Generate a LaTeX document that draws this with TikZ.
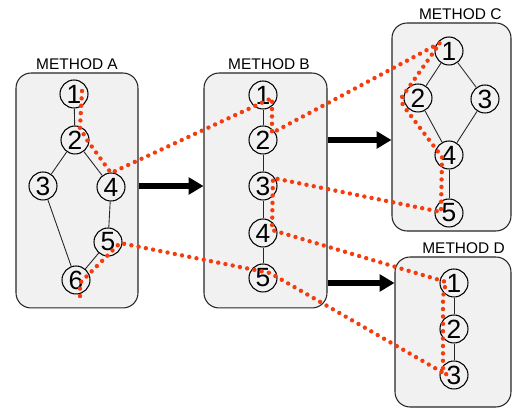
\documentclass[tikz,border=0pt]{standalone}
\usepackage{fontspec}
\setmainfont{Liberation Sans}
\usetikzlibrary{positioning, arrows.meta, calc}
\definecolor{tracered}{RGB}{245,60,15}
\tikzset{
    methodbox/.style={rectangle, rounded corners=0.3cm, draw=black!85, fill=gray!11, line width=0.6pt},
    methodlabel/.style={font=\fontsize{8.8}{9}\selectfont, inner sep=1.2pt},
    vertex/.style={circle, draw=black, line width=0.6pt, minimum size=0.56cm, inner sep=0pt, font=\fontsize{15}{15}\selectfont},
    link/.style={black!85, line width=0.5pt},
    trace/.style={tracered, line width=2.5pt, line cap=round, dash pattern=on 0pt off 4.2pt}
}

\begin{document}
\begin{tikzpicture}[
        x=0.02cm, y=-0.02cm,
        flow/.style={-{Triangle[length=8.5pt, width=9.5pt]}, line width=3.1pt, black}
        ]
        \useasboundingbox (0,0) rectangle (512,408);

        % --- BOXES ---
        \node[methodbox, minimum width=2.44cm, minimum height=4.7cm] (boxA) at (77,190.5) {};
        \node[methodbox, minimum width=2.46cm, minimum height=4.7cm] (boxB) at (265.5,190.5) {};
        \node[methodbox, minimum width=2.38cm, minimum height=4.16cm] (boxC) at (451.5,127) {};
        \node[methodbox, minimum width=2.32cm, minimum height=3.0cm] (boxD) at (453,332) {};

        \node[methodlabel, above=0pt of boxA] (labA) {METHOD A};
        \node[methodlabel, above=0pt of boxB, xshift=2] (labB) {METHOD B};
        \node[methodlabel, above=0pt of boxC, xshift=5] (labC) {METHOD C};
        \node[methodlabel, above=0pt of boxD, xshift=6] (labD) {METHOD D};

        % --- METHOD A ---
        \node[vertex] (a1) at (74,94) {1};
        \node[vertex] (a2) at (75,140) {2};
        \node[vertex] (a3) at (43,186) {3};
        \node[vertex] (a4) at (111,187) {4};
        \node[vertex] (a5) at (108,242) {5};
        \node[vertex] (a6) at (76,280) {6};
        \draw[link] (a1) -- (a2);
        \draw[link] (a2) -- (a3);
        \draw[link] (a2) -- (a4);
        \draw[link] (a3) -- (a6);
        \draw[link] (a4) -- (a5);
        \draw[link] (a5) -- (a6);

        % --- METHOD B ---
        \node[vertex] (b1) at (263,95) {1};
        \node[vertex] (b2) at (263,140) {2};
        \node[vertex] (b3) at (263,186) {3};
        \node[vertex] (b4) at (263,233) {4};
        \node[vertex] (b5) at (263,278) {5};
        \foreach \i/\j in {b1/b2, b2/b3, b3/b4, b4/b5}
            \draw[link] (\i) -- (\j);

        % --- METHOD C ---
        \node[vertex] (c1) at (449,51) {1};
        \node[vertex] (c2) at (418,98) {2};
        \node[vertex] (c3) at (485,99) {3};
        \node[vertex] (c4) at (449,155) {4};
        \node[vertex] (c5) at (449,213) {5};
        \draw[link] (c1) -- (c2);
        \draw[link] (c1) -- (c3);
        \draw[link] (c2) -- (c4);
        \draw[link] (c3) -- (c4);
        \draw[link] (c4) -- (c5);

        % --- METHOD D ---
        \node[vertex] (d1) at (454,283) {1};
        \node[vertex] (d2) at (454,329) {2};
        \node[vertex] (d3) at (454,375) {3};
        \draw[link] (d1) -- (d2);
        \draw[link] (d2) -- (d3);

        % --- BIG ARROWS ---
        \draw[flow] (boxA.east |- b3) -- (boxB.west |- b3);
        \draw[flow] (boxB.east |- b2) -- (boxC.west |- b2);
        \draw[flow] (boxB.east |- d1) -- (boxD.west |- d1);

        % --- DOTTED TRACE ---
        \draw[trace] ($(a1)+(8,-3)$) -- ($(a2)+(5,-12)$) -- ($(a2)+(12,0)$) -- ($(a4)+(0,-14)$)
            -- ($(b1)+(9,3)$) -- ($(b2)+(9,-7)$)
            -- ($(c1)+(-9,-8)$) -- ($(c2)+(-16,-1)$) -- ($(c2)+(-16,5)$) -- ($(c2)+(-13,10)$)
            -- ($(c4)+(-7,2)$) -- ($(c5)+(-8,-1)$)
            -- ($(b3)+(10,-8)$) -- ($(b4)+(9,-3)$)
            -- ($(d1)+(-8,-1)$) -- ($(d1)+(-11,14)$) -- ($(d3)+(-11,-4)$) -- ($(d3)+(-7,0)$)
            -- ($(b5)+(7,-5)$) -- ($(a5)+(12,1)$) -- ($(a6)+(4,3)$) -- ($(a6)+(4,17)$);

    \end{tikzpicture}
\end{document}
